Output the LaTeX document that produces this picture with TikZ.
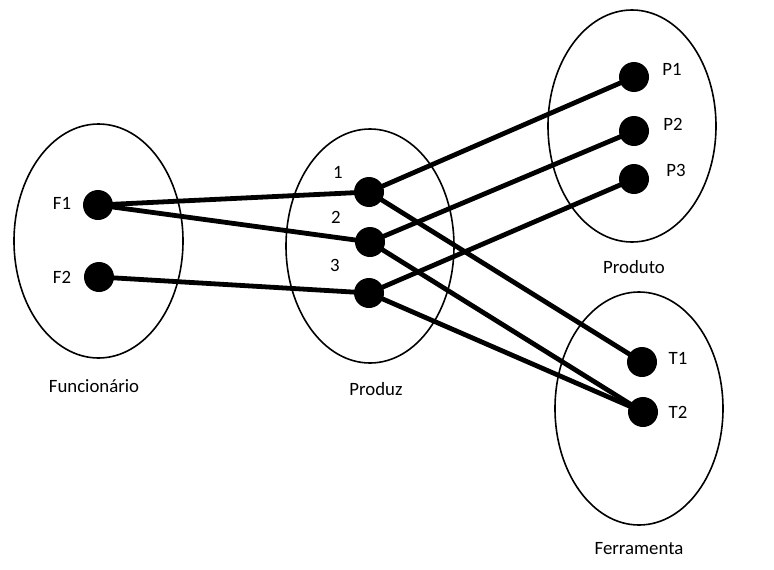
\documentclass[tikz,border=0pt]{standalone}
\usepackage{fontspec}
\setmainfont{Carlito}
\usepackage{tikz}

\tikzset{
    dot/.style={circle, fill=black, inner sep=0pt, minimum width=28pt, minimum height=30pt},
    conj/.style={line width=1.6pt},
    lig/.style={line width=4.8pt},
    lbl/.style={font=\fontsize{18.8}{22}\selectfont, inner sep=0pt}
}

\begin{document}
\begin{tikzpicture}[x=1pt, y=-1pt]
    \useasboundingbox (0,0) rectangle (774,570);

    % conjuntos
    \draw[conj] (98.5,241) ellipse [x radius=84.5pt, y radius=117pt];
    \draw[conj] (370,246) ellipse [x radius=84pt, y radius=117pt];
    \draw[conj] (632,126) ellipse [x radius=84pt, y radius=116pt];
    \draw[conj] (639,408.5) ellipse [x radius=84pt, y radius=116.5pt];

    % pontos
    \coordinate (F1) at (98,205);
    \coordinate (F2) at (99,277);
    \coordinate (R1) at (369,192);
    \coordinate (R2) at (370,242);
    \coordinate (R3) at (369,293);
    \coordinate (P1) at (634,77);
    \coordinate (P2) at (634,131);
    \coordinate (P3) at (634,179);
    \coordinate (T1) at (642,362);
    \coordinate (T2) at (643,412);

    % ligacoes
    \draw[lig] (F1) -- (R1);
    \draw[lig] (F1) -- (R2);
    \draw[lig] (F2) -- (R3);
    \draw[lig] (R1) -- (P1);
    \draw[lig] (R2) -- (P2);
    \draw[lig] (R3) -- (P3);
    \draw[lig] (R1) -- (T1);
    \draw[lig] (R2) -- (T2);
    \draw[lig] (R3) -- (T2);

    \foreach \p in {F1,F2,R1,R2,R3,P1,P2,P3,T1,T2}
        \node[dot] (d\p) at (\p) {};

    % rotulos
    \node[lbl] (lF1) at (62,203) {F1};
    \node[lbl] (lF2) at (62,277) {F2};
    \node[lbl] (lR1) at (338,172) {1};
    \node[lbl] (lR2) at (336,217) {2};
    \node[lbl] (lR3) at (335,265) {3};
    \node[lbl] (lP1) at (672,69) {P1};
    \node[lbl] (lP2) at (673,124) {P2};
    \node[lbl] (lP3) at (676,170) {P3};
    \node[lbl] (lT1) at (678,358) {T1};
    \node[lbl] (lT2) at (678,412) {T2};

    \node[lbl] (func) at (94,386) {Funcionário};
    \node[lbl] (prodz) at (376,389) {Produz};
    \node[lbl] (prodt) at (634,267) {Produto};
    \node[lbl] (ferr) at (639,549) {Ferramenta};
\end{tikzpicture}
\end{document}
